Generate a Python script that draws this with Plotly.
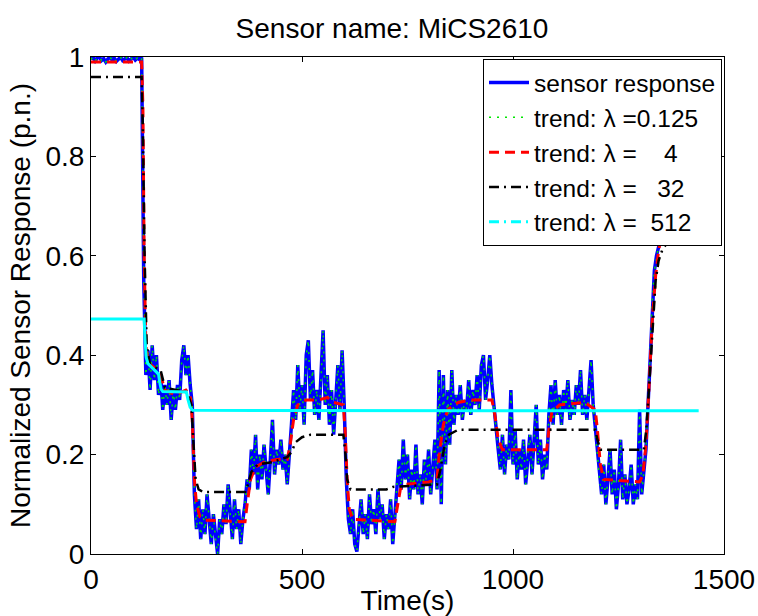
import plotly.graph_objects as go

# ---------------- data ----------------
t_step = 5
sensor_resp = [
    0.995, 1.0, 0.992, 0.998, 1.0, 0.993, 0.997, 0.990, 0.996, 1.0,
    0.994, 0.998, 0.991, 0.997, 1.0, 0.993, 0.996, 0.999, 0.992, 0.997,
    1.0, 0.994, 0.998, 0.995, 0.999, 0.55, 0.36, 0.41, 0.33, 0.42,
    0.35, 0.40, 0.32, 0.36, 0.29, 0.34, 0.30, 0.35, 0.27, 0.33,
    0.29, 0.34, 0.31, 0.39, 0.42, 0.36, 0.40, 0.34, 0.30, 0.12,
    0.05, 0.11, 0.03, 0.09, 0.04, 0.12, 0.06, 0.02, 0.08, 0.03,
    0.0, 0.07, 0.04, 0.10, 0.06, 0.14, 0.08, 0.03, 0.11, 0.05,
    0.09, 0.02, 0.07, 0.10, 0.15, 0.13, 0.21, 0.16, 0.24, 0.13,
    0.20, 0.15, 0.22, 0.17, 0.12, 0.19, 0.27, 0.16, 0.21, 0.18,
    0.23, 0.17, 0.20, 0.14, 0.19, 0.26, 0.33, 0.27, 0.38, 0.29,
    0.34, 0.26, 0.40, 0.43, 0.31, 0.37, 0.28, 0.33, 0.27, 0.35,
    0.45, 0.30, 0.36, 0.26, 0.33, 0.24, 0.31, 0.38, 0.29, 0.41,
    0.30, 0.15, 0.07, 0.04, 0.09, 0.02, 0.005, 0.06, 0.11, 0.04,
    0.08, 0.03, 0.12, 0.06, 0.09, 0.04, 0.13, 0.07, 0.10, 0.03,
    0.08, 0.05, 0.11, 0.02, 0.07, 0.14, 0.19, 0.13, 0.23, 0.15,
    0.20, 0.11, 0.17, 0.13, 0.22, 0.12, 0.16, 0.10, 0.19, 0.14,
    0.21, 0.12, 0.17, 0.23, 0.13, 0.37, 0.10, 0.36, 0.18, 0.33,
    0.22, 0.37, 0.26, 0.32, 0.28, 0.34, 0.27, 0.31, 0.29, 0.35,
    0.28, 0.33, 0.30, 0.36, 0.29, 0.38, 0.40, 0.31, 0.35, 0.40,
    0.34, 0.29, 0.25, 0.21, 0.17, 0.24, 0.16, 0.22, 0.19, 0.33,
    0.18, 0.25, 0.15, 0.21, 0.17, 0.23, 0.14, 0.20, 0.24, 0.16,
    0.22, 0.30, 0.18, 0.23, 0.15, 0.20, 0.17, 0.28, 0.34, 0.26,
    0.35, 0.28, 0.32, 0.26, 0.33, 0.29, 0.35, 0.27, 0.31, 0.28,
    0.34, 0.30, 0.37, 0.28, 0.32, 0.27, 0.33, 0.39, 0.30, 0.25,
    0.21, 0.15, 0.12, 0.18, 0.10, 0.15, 0.21, 0.12, 0.17, 0.09,
    0.14, 0.23, 0.11, 0.16, 0.10, 0.13, 0.18, 0.10, 0.14, 0.11,
    0.29, 0.12, 0.16, 0.21, 0.30, 0.40, 0.51, 0.57, 0.60, 0.62,
    0.635, 0.65, 0.66, 0.67, 0.665, 0.68, 0.67, 0.675, 0.685, 0.67,
    0.68, 0.675, 0.69, 0.68, 0.685, 0.67, 0.68, 0.69, 0.685,
]
sensor_time = [i * t_step for i in range(len(sensor_resp))]

# trend lambda = 0.125 follows the response at plotting resolution
trend_0125 = list(sensor_resp)

trend4_time = [0, 120, 123, 126, 130, 135, 150, 165, 175, 200, 225, 235, 240, 245, 250, 258, 270,
               365, 370, 378, 390, 410, 440, 465, 472, 480, 490, 510, 540, 560, 575, 598, 602,
               607, 612, 620, 720, 725, 733, 745, 800, 820, 825, 835, 845, 870, 900, 950, 957,
               965, 975, 1080, 1085, 1092, 1110, 1170, 1195, 1200, 1207, 1215, 1300, 1308, 1315,
               1322, 1330, 1338, 1345, 1352, 1360, 1440]
trend4_val = [0.99, 0.99, 0.9, 0.6, 0.42, 0.385, 0.375, 0.36, 0.33, 0.32, 0.33, 0.32, 0.27, 0.15,
              0.1, 0.075, 0.068, 0.065, 0.1, 0.15, 0.175, 0.185, 0.19, 0.19, 0.22, 0.27, 0.30,
              0.31, 0.31, 0.315, 0.305, 0.30, 0.25, 0.15, 0.09, 0.07, 0.065, 0.09, 0.13, 0.14,
              0.145, 0.15, 0.2, 0.26, 0.29, 0.305, 0.31, 0.31, 0.28, 0.23, 0.21, 0.21, 0.25,
              0.285, 0.30, 0.305, 0.29, 0.25, 0.18, 0.15, 0.145, 0.16, 0.22, 0.33, 0.47, 0.56,
              0.61, 0.645, 0.665, 0.67]

trend32_time = [0, 120, 123, 127, 132, 140, 165, 175, 228, 238, 243, 248, 255, 265, 365, 372, 380,
                395, 430, 465, 475, 485, 500, 520, 598, 603, 607, 615, 700, 715, 820, 828, 838,
                848, 870, 960, 1080, 1195, 1200, 1207, 1310, 1316, 1322, 1330, 1338, 1345, 1355,
                1370, 1400, 1440]
trend32_val = [0.96, 0.96, 0.85, 0.6, 0.42, 0.38, 0.37, 0.335, 0.325, 0.3, 0.22, 0.15, 0.13,
               0.125, 0.125, 0.14, 0.165, 0.18, 0.185, 0.195, 0.205, 0.225, 0.235, 0.24, 0.24,
               0.2, 0.15, 0.13, 0.13, 0.135, 0.14, 0.17, 0.22, 0.24, 0.25, 0.25, 0.25, 0.25, 0.23,
               0.21, 0.21, 0.25, 0.33, 0.45, 0.55, 0.59, 0.615, 0.63, 0.636, 0.638]

trend512_time = [0, 126, 128, 131, 135, 145, 155, 160, 163, 166, 170, 226, 230, 235, 241, 1440]
trend512_val = [0.473, 0.473, 0.43, 0.395, 0.383, 0.375, 0.368, 0.362, 0.345, 0.332, 0.327,
                0.326, 0.31, 0.295, 0.289, 0.288]

legend_names = ["sensor response",
                "trend: \u03bb =0.125",
                "trend: \u03bb =\u00a0\u00a0\u00a0\u00a04",
                "trend: \u03bb =\u00a0\u00a0\u00a032",
                "trend: \u03bb =\u00a0\u00a0512"]
x_ticks = [0, 500, 1000, 1500]
y_ticks = [0, 0.2, 0.4, 0.6, 0.8, 1]
y_ticktext = ["0", "0.2", "0.4", "0.6", "0.8", "1"]

FONT = "Liberation Sans, Arial, Helvetica, sans-serif"

fig = go.Figure()
fig.add_trace(go.Scatter(x=sensor_time, y=sensor_resp, mode="lines", name=legend_names[0],
                         line=dict(color="rgb(0,0,255)", width=3.5)))
fig.add_trace(go.Scatter(x=sensor_time, y=trend_0125, mode="lines", name=legend_names[1],
                         line=dict(color="rgb(0,230,0)", width=1.5, dash="2px,6px")))
fig.add_trace(go.Scatter(x=trend4_time, y=trend4_val, mode="lines", name=legend_names[2],
                         line=dict(color="rgb(255,0,0)", width=3, dash="10px,6px")))
fig.add_trace(go.Scatter(x=trend32_time, y=trend32_val, mode="lines", name=legend_names[3],
                         line=dict(color="black", width=2.5, dash="10px,5px,2px,5px")))
fig.add_trace(go.Scatter(x=trend512_time, y=trend512_val, mode="lines", name=legend_names[4],
                         showlegend=False, line=dict(color="rgb(0,255,255)", width=3)))
fig.add_trace(go.Scatter(x=[None], y=[None], mode="lines", name=legend_names[4],
                         line=dict(color="rgb(0,255,255)", width=3, dash="10px,5px,2px,5px")))

fig.update_layout(
    width=758, height=616,
    margin=dict(l=91, r=34, t=57, b=62, autoexpand=False),
    paper_bgcolor="white", plot_bgcolor="white",
    font=dict(family=FONT, size=28, color="black"),
    title=dict(text="Sensor name: MiCS2610", x=(392 - 91) / 633, xref="paper", y=1 - 28 / 616,
               yref="container", yanchor="middle", xanchor="center",
               font=dict(size=28, family=FONT, color="black")),
    showlegend=True,
    legend=dict(x=(722 - 91) / 633, y=(554 - 59) / 497, xanchor="right", yanchor="top",
                bgcolor="white", bordercolor="black", borderwidth=1,
                font=dict(size=24.5, family=FONT, color="black"),
                itemwidth=40, tracegroupgap=0),
)
fig.update_xaxes(range=[0, 1500], tickvals=x_ticks, ticks="inside", ticklen=5, tickcolor="black",
                 showline=True, linecolor="black", linewidth=1, mirror="ticks", showgrid=False,
                 zeroline=False, automargin=False,
                 title=dict(text="Time(s)", standoff=0, font=dict(size=28)),
                 tickfont=dict(size=28))
fig.update_yaxes(range=[0, 1], tickvals=y_ticks, ticktext=y_ticktext, ticks="inside", ticklen=5,
                 tickcolor="black", showline=True, linecolor="black", linewidth=1,
                 mirror="ticks", showgrid=False, zeroline=False, automargin=False,
                 title=dict(text="Normalized Sensor Response (p.n.)", standoff=6,
                            font=dict(size=28)),
                 tickfont=dict(size=28))

fig.write_html("out.html")
